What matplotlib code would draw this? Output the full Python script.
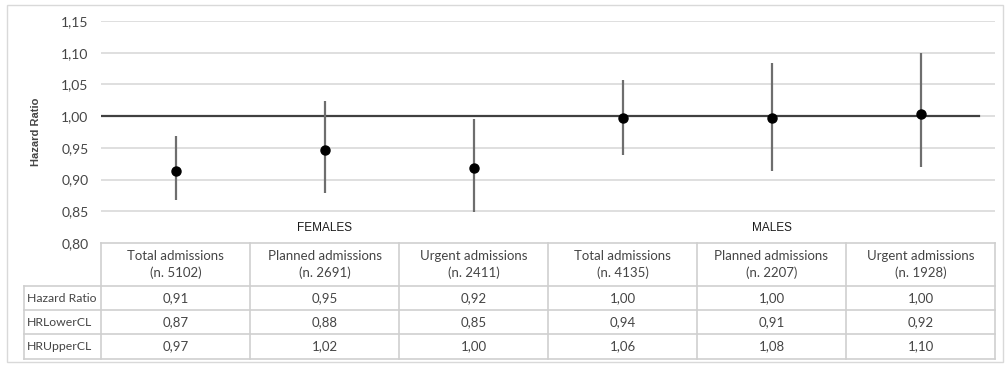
import matplotlib
matplotlib.use('Agg')
import matplotlib.pyplot as plt
from matplotlib.patches import Rectangle

# Hazard ratios with confidence limits by admission type
categories = ['Total admissions', 'Planned admissions', 'Urgent admissions',
              'Total admissions', 'Planned admissions', 'Urgent admissions']
counts = [5102, 2691, 2411, 4135, 2207, 1928]
groups = ['FEMALES', 'MALES']
group_pos = [1, 4]
hr = [0.914, 0.947, 0.919, 0.997, 0.997, 1.004]
hr_lower = [0.868, 0.879, 0.849, 0.938, 0.914, 0.920]
hr_upper = [0.968, 1.024, 0.996, 1.057, 1.083, 1.100]
row_names = ['Hazard Ratio', 'HRLowerCL', 'HRUpperCL']
yticks = [0.80, 0.85, 0.90, 0.95, 1.00, 1.05, 1.10, 1.15]

W, H = 1005, 370
TEXT = '#454545'
GRID = '#d9d9d9'
TABLE_LINE = '#cfcfcf'
BODY_FONT = ['Lato', 'DejaVu Sans']
NARROW_FONT = ['Liberation Sans Narrow', 'Liberation Sans', 'DejaVu Sans']


def fx(px):
    return px / W


def fy(py):
    return 1 - py / H


fig = plt.figure(figsize=(W / 100, H / 100), dpi=100)

# frame round the whole chart
fig.patches.append(Rectangle((fx(7), fy(362)), fx(996), (362 - 5) / H,
                             transform=fig.transFigure, fill=False,
                             edgecolor=GRID, linewidth=1))

left, right, top, bottom = 101, 995, 21, 243
ax = fig.add_axes([fx(left), fy(bottom), fx(right - left), (bottom - top) / H])
x = list(range(len(hr)))
ax.set_xlim(-0.5, len(hr) - 0.5)
ax.set_ylim(yticks[0], yticks[-1])
for s in ax.spines.values():
    s.set_visible(False)
ax.set_xticks([])
ax.set_yticks(yticks)
ax.set_yticklabels([f'{t:.2f}'.replace('.', ',') for t in yticks],
                   fontsize=10, color=TEXT, family=BODY_FONT)
ax.tick_params(axis='y', length=0, pad=9)
for t in yticks[1:]:
    ax.axhline(t, color=GRID, linewidth=1.2, zorder=0)

ax.axhline(1.0, xmax=0.982, color='#404040', linewidth=1.6, zorder=1)
yerr = [[h - lo for h, lo in zip(hr, hr_lower)],
        [up - h for h, up in zip(hr, hr_upper)]]
ax.errorbar(x, hr, yerr=yerr, fmt='o', color='black', markersize=6.5,
            ecolor='#6e6e6e', elinewidth=1.6, capsize=0, zorder=3)

for g, p in zip(groups, group_pos):
    ax.text(p, 0.824, g, ha='center', va='center', fontsize=8.5,
            color='#1a1a1a', family=NARROW_FONT)

fig.text(fx(36), fy(132), 'Hazard Ratio', rotation=90, ha='center',
         va='center', fontsize=8, fontweight='bold', color=TEXT,
         family=NARROW_FONT)

# data table under the plot, drawn in pixel coordinates
tab = fig.add_axes([0, 0, 1, 1], facecolor='none')
tab.set_xlim(0, W)
tab.set_ylim(H, 0)
tab.axis('off')

col_w = (right - left) / len(hr)
row_top = [bottom, 286, 310, 334, 359]
label_left = 24
tab.plot([left, right], [bottom, bottom], color=TABLE_LINE, lw=1.2)
for yy in row_top[1:]:
    tab.plot([label_left, right], [yy, yy], color=TABLE_LINE, lw=1.2)
tab.plot([label_left, label_left], [row_top[1], row_top[-1]],
         color=TABLE_LINE, lw=1.2)
for i in range(len(hr) + 1):
    xx = left + i * col_w
    tab.plot([xx, xx], [bottom, row_top[-1]], color=TABLE_LINE, lw=1.2)

for i, (c, n) in enumerate(zip(categories, counts)):
    cx = left + (i + 0.5) * col_w
    tab.text(cx, (row_top[0] + row_top[1]) / 2, f'{c}\n(n. {n})',
             ha='center', va='center', fontsize=9.5, color=TEXT,
             family=BODY_FONT, linespacing=1.35)
    for r, vals in enumerate([hr, hr_lower, hr_upper]):
        cy = (row_top[r + 1] + row_top[r + 2]) / 2
        tab.text(cx, cy, f'{vals[i]:.2f}'.replace('.', ','), ha='center',
                 va='center', fontsize=9.5, color=TEXT, family=BODY_FONT)

for r, name in enumerate(row_names):
    cy = (row_top[r + 1] + row_top[r + 2]) / 2
    tab.text(label_left + 3, cy, name, ha='left', va='center', fontsize=8.8,
             color=TEXT, family=BODY_FONT)

fig.savefig('out.png', dpi=100)
